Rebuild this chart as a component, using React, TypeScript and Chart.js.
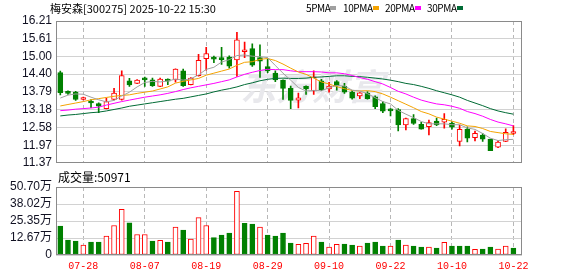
import React, { useEffect, useRef } from "react";
import { Chart, registerables } from "chart.js";

Chart.register(...registerables);

// ---------- data ----------
const title = "梅安森[300275] 2025-10-22 15:30";
const maNames = ["5PMA", "10PMA", "20PMA", "30PMA"];
const volumeLabel = "成交量";
const latestVolume = "50971";
const watermark = "东方财富";

const dates = [
  "07-23", "07-24", "07-25", "07-28", "07-29", "07-30", "07-31", "08-01", "08-04", "08-05",
  "08-06", "08-07", "08-08", "08-11", "08-12", "08-13", "08-14", "08-15", "08-18", "08-19",
  "08-20", "08-21", "08-22", "08-25", "08-26", "08-27", "08-28", "08-29", "09-01", "09-02",
  "09-03", "09-04", "09-05", "09-08", "09-09", "09-10", "09-11", "09-12", "09-15", "09-16",
  "09-17", "09-18", "09-19", "09-22", "09-23", "09-24", "09-25", "09-26", "09-29", "09-30",
  "10-09", "10-10", "10-13", "10-14", "10-15", "10-16", "10-17", "10-20", "10-21", "10-22",
];

const opens = [
  14.45, 13.79, 13.78, 13.53, 13.46, 13.39, 13.22, 13.53, 13.53, 14.17,
  14.08, 14.23, 14.20, 13.98, 14.19, 14.20, 14.51, 14.04, 14.34, 14.92,
  14.93, 14.96, 14.98, 14.88, 15.16, 15.27, 14.96, 14.65, 14.43, 14.19,
  13.91, 13.51, 13.98, 13.83, 14.17, 13.89, 14.14, 13.98, 13.78, 13.65,
  13.75, 13.62, 13.39, 13.16, 13.19, 12.66, 12.88, 12.68, 12.60, 12.79,
  12.76, 12.73, 12.10, 12.52, 12.23, 12.32, 12.18, 11.90, 12.10, 12.37,
];
const highs = [
  14.50, 13.83, 13.81, 13.61, 13.53, 13.42, 13.58, 13.91, 14.51, 14.25,
  14.21, 14.30, 14.26, 14.26, 14.24, 14.58, 14.57, 14.28, 15.07, 15.31,
  15.01, 15.31, 15.02, 15.82, 15.49, 15.43, 15.40, 14.90, 14.51, 14.20,
  13.99, 13.75, 14.00, 14.51, 14.22, 14.12, 14.18, 14.08, 13.84, 13.77,
  13.80, 13.66, 13.46, 13.22, 13.22, 12.90, 13.02, 12.75, 12.83, 12.90,
  13.05, 12.77, 12.66, 12.60, 12.45, 12.37, 12.18, 12.13, 12.53, 12.64,
];
const lows = [
  13.69, 13.70, 13.50, 13.52, 13.25, 13.08, 13.21, 13.52, 13.51, 13.98,
  14.07, 13.98, 13.98, 13.97, 14.04, 14.12, 13.98, 14.03, 14.33, 14.53,
  14.79, 14.73, 14.60, 14.32, 14.96, 14.66, 14.28, 14.45, 14.14, 13.53,
  13.22, 13.24, 13.70, 13.70, 13.83, 13.78, 13.85, 13.74, 13.54, 13.56,
  13.54, 13.22, 13.08, 12.97, 12.46, 12.49, 12.68, 12.52, 12.32, 12.64,
  12.55, 12.52, 11.95, 12.08, 12.12, 12.10, 11.78, 11.89, 12.09, 12.33,
];
const closes = [
  13.76, 13.74, 13.53, 13.57, 13.41, 13.30, 13.46, 13.75, 14.35, 14.03,
  14.19, 14.20, 14.00, 14.23, 14.16, 14.57, 14.00, 14.26, 14.87, 15.10,
  14.91, 14.89, 14.67, 15.57, 15.19, 14.70, 14.84, 14.51, 14.20, 13.91,
  13.50, 13.59, 13.89, 14.30, 13.87, 13.99, 14.00, 13.78, 13.58, 13.76,
  13.56, 13.29, 13.13, 13.14, 12.66, 12.88, 12.71, 12.52, 12.74, 12.66,
  12.85, 12.59, 12.51, 12.21, 12.38, 12.18, 11.78, 12.08, 12.41, 12.39,
];

const ma5 = [
  13.58, 13.68, 13.72, 13.71, 13.61, 13.52, 13.45, 13.50, 13.65, 13.78,
  13.96, 14.11, 14.15, 14.13, 14.16, 14.23, 14.19, 14.24, 14.37, 14.56,
  14.63, 14.81, 14.89, 15.03, 15.05, 15.01, 14.99, 14.96, 14.69, 14.43,
  14.19, 13.94, 13.82, 13.84, 13.83, 13.93, 14.01, 13.99, 13.85, 13.82,
  13.73, 13.59, 13.46, 13.38, 13.16, 13.03, 12.91, 12.78, 12.70, 12.70,
  12.70, 12.67, 12.67, 12.56, 12.51, 12.37, 12.21, 12.13, 12.16, 12.17,
];
const ma10 = [
  13.31, 13.36, 13.41, 13.46, 13.52, 13.56, 13.60, 13.64, 13.67, 13.69,
  13.74, 13.78, 13.82, 13.89, 13.96, 14.09, 14.15, 14.20, 14.25, 14.36,
  14.43, 14.50, 14.57, 14.70, 14.80, 14.82, 14.90, 14.93, 14.86, 14.74,
  14.60, 14.47, 14.39, 14.26, 14.13, 14.06, 13.97, 13.90, 13.84, 13.82,
  13.83, 13.80, 13.72, 13.61, 13.49, 13.37, 13.25, 13.12, 13.04, 12.93,
  12.86, 12.79, 12.72, 12.63, 12.61, 12.54, 12.44, 12.40, 12.36, 12.34,
];
const ma20 = [
  13.15, 13.17, 13.20, 13.22, 13.24, 13.27, 13.34, 13.40, 13.46, 13.51,
  13.56, 13.61, 13.65, 13.69, 13.74, 13.80, 13.87, 13.93, 13.98, 14.03,
  14.08, 14.14, 14.20, 14.30, 14.39, 14.46, 14.52, 14.56, 14.55, 14.55,
  14.51, 14.48, 14.48, 14.48, 14.47, 14.44, 14.44, 14.41, 14.35, 14.28,
  14.22, 14.14, 14.06, 13.94, 13.81, 13.72, 13.61, 13.51, 13.44, 13.38,
  13.35, 13.30, 13.23, 13.12, 13.05, 12.96, 12.85, 12.76, 12.70, 12.63,
];
const ma30 = [
  12.97, 13.00, 13.02, 13.05, 13.08, 13.10, 13.14, 13.19, 13.24, 13.30,
  13.34, 13.38, 13.42, 13.46, 13.50, 13.54, 13.57, 13.62, 13.67, 13.72,
  13.79, 13.85, 13.90, 13.96, 14.04, 14.10, 14.17, 14.22, 14.25, 14.26,
  14.25, 14.25, 14.26, 14.29, 14.30, 14.32, 14.34, 14.34, 14.32, 14.31,
  14.29, 14.26, 14.23, 14.19, 14.14, 14.08, 14.04, 13.98, 13.91, 13.83,
  13.76, 13.69, 13.61, 13.50, 13.41, 13.32, 13.22, 13.14, 13.08, 13.03,
];

// volume in 万 (10k shares)
const volumes = [
  21.5, 11.1, 10.4, 7.4, 9.6, 9.6, 14.1, 22.0, 34.1, 24.0,
  15.3, 15.3, 10.4, 10.9, 9.6, 20.8, 18.5, 11.9, 27.9, 22.0,
  12.9, 14.8, 16.3, 47.5, 23.7, 23.0, 20.8, 14.8, 14.1, 16.3,
  8.9, 7.9, 8.7, 14.1, 9.6, 5.9, 7.9, 8.2, 7.4, 6.7,
  8.9, 9.6, 6.7, 6.7, 11.1, 7.4, 6.7, 5.9, 5.9, 5.2,
  9.4, 6.7, 6.7, 6.7, 4.2, 4.5, 5.9, 4.5, 6.7, 5.0971,
];

const priceTicks = [11.37, 11.97, 12.58, 13.18, 13.79, 14.40, 15.00, 15.61, 16.21];
const volumeTicks = [0, 12.67, 25.35, 38.02, 50.70];
const xTickLabels = ["07-28", "08-07", "08-19", "08-29", "09-10", "09-22", "10-10", "10-22"];

// ---------- styles ----------
const RED = "#ff0000";
const GREEN = "#008000";
const MA_COLORS = ["#a0a0a0", "#f4a300", "#ff00ff", "#006b35"];
const GRID = "#d2d2d2";
const DASH = "#b8b8b8";
const FRAME = "#8a8a8a";
const LABEL_FONT = '"Liberation Sans", "Noto Sans CJK SC", sans-serif';
const CJK_FONT = '"Noto Sans CJK SC", "Liberation Sans", sans-serif';

const idx = dates.map((_, i) => i);
const tickIdx = xTickLabels.map((l) => dates.indexOf(l));
const candleUp = idx.map((i) => closes[i] >= opens[i]);
const volUp = idx.map((i) => (i === 0 ? closes[0] >= opens[0] : closes[i] >= closes[i - 1]));
const X_MIN = -0.56;
const X_MAX = 60.12;

const framePlugin = {
  id: "plotFrame",
  afterDraw(chart: any) {
    const { ctx, chartArea: a } = chart;
    ctx.save();
    ctx.strokeStyle = FRAME;
    ctx.lineWidth = 1;
    ctx.setLineDash([]);
    const l = Math.round(a.left) + 0.5;
    const t = Math.round(a.top) + 0.5;
    const r = Math.round(a.right) - 0.5;
    const b = Math.round(a.bottom) - 0.5;
    ctx.strokeRect(l, t, r - l, b - t);
    ctx.restore();
  },
};

const watermarkPlugin = {
  id: "watermarkText",
  beforeDatasetsDraw(chart: any) {
    const { ctx, chartArea: a } = chart;
    ctx.save();
    ctx.fillStyle = "#e8e8ec";
    ctx.font = 'italic bold 36px "Noto Sans CJK SC"';
    ctx.textAlign = "center";
    ctx.textBaseline = "middle";
    ctx.fillText(watermark, a.left + (a.right - a.left) * 0.55, a.top + (a.bottom - a.top) * 0.46);
    ctx.restore();
  },
};

function xScale(showLabels: boolean, height: number) {
  return {
    type: "linear",
    min: X_MIN,
    max: X_MAX,
    offset: false,
    bounds: "data",
    afterBuildTicks: (s: any) => {
      s.ticks = tickIdx.map((v) => ({ value: v }));
    },
    afterFit: (s: any) => {
      s.height = height;
    },
    ticks: {
      display: showLabels,
      autoSkip: false,
      maxRotation: 0,
      padding: 5,
      color: RED,
      font: { family: '"Liberation Mono", monospace', size: 10 },
      callback: (v: number) => dates[Math.round(v)],
    },
    grid: { color: DASH, drawTicks: false, lineWidth: 1, offset: false },
    border: { display: false, dash: [4, 3] },
  };
}

function yScale(min: number, max: number, ticks: number[], fmt: (v: number) => string) {
  return {
    type: "linear",
    min,
    max,
    afterBuildTicks: (s: any) => {
      s.ticks = ticks.map((v) => ({ value: v }));
    },
    afterFit: (s: any) => {
      s.width = 56;
    },
    ticks: {
      autoSkip: false,
      color: "#111122",
      padding: 4,
      font: { family: LABEL_FONT, size: 12 },
      callback: fmt,
    },
    grid: { color: GRID, drawTicks: false },
    border: { display: false },
  };
}

function priceConfig(): any {
  const line = (data: number[], color: string) => ({
    type: "line",
    data: idx.map((i) => ({ x: i, y: data[i] })),
    borderColor: color,
    borderWidth: 1,
    pointRadius: 0,
    tension: 0,
    fill: false,
    order: 0,
  });
  return {
    type: "bar",
    data: {
      datasets: [
        line(ma5, MA_COLORS[0]),
        line(ma10, MA_COLORS[1]),
        line(ma20, MA_COLORS[2]),
        line(ma30, MA_COLORS[3]),
        {
          type: "bar",
          data: idx.map((i) => ({ x: i, y: [opens[i], closes[i]] })),
          backgroundColor: idx.map((i) => (candleUp[i] ? "#ffffff" : GREEN)),
          borderColor: idx.map((i) => (candleUp[i] ? RED : GREEN)),
          borderWidth: 1,
          borderSkipped: false,
          barThickness: 5,
          minBarLength: 2,
          grouped: false,
          order: 1,
        },
        {
          type: "bar",
          data: idx.map((i) => ({ x: i, y: [lows[i], highs[i]] })),
          backgroundColor: idx.map((i) => (candleUp[i] ? RED : GREEN)),
          borderWidth: 0,
          barThickness: 1,
          grouped: false,
          order: 2,
        },
      ],
    },
    options: {
      responsive: false,
      animation: false,
      events: [],
      layout: { padding: { left: 0, right: 56, top: 21, bottom: 9 } },
      plugins: { legend: { display: false }, tooltip: { enabled: false } },
      scales: {
        x: xScale(false, 0),
        y: yScale(11.37, 16.21, priceTicks, (v) => v.toFixed(2)),
      },
    },
    plugins: [watermarkPlugin, framePlugin],
  };
}

function volumeConfig(): any {
  return {
    type: "bar",
    data: {
      datasets: [
        {
          data: idx.map((i) => ({ x: i, y: volumes[i] })),
          backgroundColor: idx.map((i) => (volUp[i] ? "#ffffff" : GREEN)),
          borderColor: idx.map((i) => (volUp[i] ? RED : GREEN)),
          borderWidth: 1,
          borderSkipped: false,
          barThickness: 5,
          grouped: false,
        },
      ],
    },
    options: {
      responsive: false,
      animation: false,
      events: [],
      layout: { padding: { left: 0, right: 56, top: 13, bottom: 0 } },
      plugins: { legend: { display: false }, tooltip: { enabled: false } },
      scales: {
        x: xScale(true, 21),
        y: yScale(0, 50.7, volumeTicks, (v) => (v === 0 ? "0" : v.toFixed(2) + "万")),
      },
    },
    plugins: [framePlugin],
  };
}

const legendPos = [306, 343, 385, 427];

export default function App() {
  const priceRef = useRef<HTMLCanvasElement>(null);
  const volRef = useRef<HTMLCanvasElement>(null);

  useEffect(() => {
    const pc = new Chart(priceRef.current as HTMLCanvasElement, priceConfig());
    const vc = new Chart(volRef.current as HTMLCanvasElement, volumeConfig());
    return () => {
      pc.destroy();
      vc.destroy();
    };
  }, []);

  const textBase: React.CSSProperties = {
    position: "absolute",
    whiteSpace: "nowrap",
    color: "#000",
    fontFamily: CJK_FONT,
  };

  return (
    <div
      style={{
        position: "absolute",
        left: 0,
        top: 0,
        width: 578,
        height: 276,
        background: "#ffffff",
        overflow: "hidden",
      }}
    >
      <canvas
        ref={priceRef}
        width={578}
        height={174}
        style={{ position: "absolute", left: 0, top: 0, width: 578, height: 174 }}
      />
      <canvas
        ref={volRef}
        width={578}
        height={102}
        style={{ position: "absolute", left: 0, top: 174, width: 578, height: 102 }}
      />
      <div style={{ ...textBase, left: 50, top: 1, fontSize: 11, lineHeight: "14px" }}>{title}</div>
      {maNames.map((n, k) => (
        <React.Fragment key={n}>
          <div
            style={{
              ...textBase,
              left: legendPos[k],
              top: 1,
              fontSize: 10,
              lineHeight: "14px",
              letterSpacing: "-0.4px",
            }}
          >
            {n}
          </div>
          <div
            style={{
              position: "absolute",
              left: legendPos[k] + (n.length === 4 ? 24 : 30),
              top: 6,
              width: 6,
              height: 4,
              background: MA_COLORS[k],
            }}
          />
        </React.Fragment>
      ))}
      <div style={{ ...textBase, left: 58, top: 170, fontSize: 12, lineHeight: "14px" }}>
        {volumeLabel}:{latestVolume}
      </div>
    </div>
  );
}
